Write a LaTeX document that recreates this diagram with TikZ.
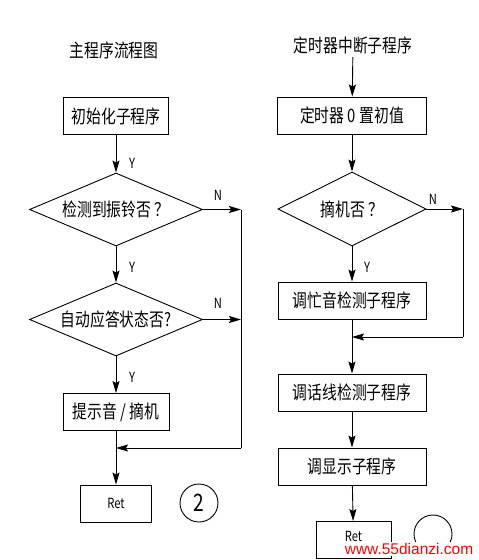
\documentclass[tikz,border=0pt]{standalone}
\usepackage{fontspec}
\usetikzlibrary{arrows.meta,shapes.geometric}
\newfontfamily\cjk[FakeStretch=0.8]{Noto Sans CJK SC}
\newfontfamily\wmfont{Liberation Sans}
\tikzset{
    every node/.style={font=\cjk\fontsize{18.5}{20}\selectfont},
    procbox/.style={rectangle,draw,line width=0.9pt,minimum height=37pt,inner sep=2pt},
    decision/.style={diamond,draw,line width=0.9pt,inner sep=0pt,aspect=2.4,minimum width=173pt,minimum height=73pt},
    yn/.style={font=\cjk\fontsize{14}{15}\selectfont,inner sep=1pt},
    flow/.style={draw,line width=0.9pt,-{Stealth[length=12pt,width=7pt,inset=2pt]}},
    plain/.style={draw,line width=0.9pt}
}
\begin{document}
\begin{tikzpicture}[x=1pt,y=-1pt]
\useasboundingbox (0,0) rectangle (479,560);
% main program
\node (maintitle) at (114,50) {主程序流程图};
\node[procbox,minimum width=105pt] (init) at (116,116) {初始化子程序};
\node[decision] (ring) at (116,209.5) {检测到振铃否 ？};
\node[decision] (auto) at (116,319.5) {自动应答状态否?};
\node[procbox,minimum width=106pt] (tone) at (116,412) {提示音 / 摘机};
\node[procbox,minimum width=71pt,font=\cjk\fontsize{14}{15}\selectfont] (retA) at (116,503.5) {Ret};
\node[circle,draw,line width=0.9pt,minimum size=38pt,inner sep=0pt,font=\cjk\fontsize{24}{26}\selectfont] (numA) at (199,503) {2};
\coordinate (ringN) at (241,209.5);
\coordinate (autoN) at (241,319.5);
\coordinate (backA) at (241,448);
\coordinate (joinA) at (116,448);
\draw[flow] (init) -- (ring);
\draw[flow] (ring) -- (auto);
\draw[flow] (auto) -- (tone);
\draw[flow] (ring.east) -- (ringN);
\draw[flow] (auto.east) -- (autoN);
\draw[plain] (ringN) -- (backA);
\draw[flow] (backA) -- (joinA);
\draw[plain] (tone) -- (joinA);
\draw[flow] (joinA) -- (retA);
\node[yn] (y1) at (132,163) {Y};
\node[yn] (y2) at (132,267) {Y};
\node[yn] (y3) at (132,377) {Y};
\node[yn] (n1) at (218,195) {N};
\node[yn] (n2) at (218,303) {N};
% timer interrupt
\node (timertitle) at (353,45) {定时器中断子程序};
\node[procbox,minimum width=149pt] (tinit) at (352,115.5) {定时器 0 置初值};
\node[decision,minimum width=148pt,minimum height=74pt] (hook) at (352,209) {摘机否 ？};
\node[procbox,minimum width=148pt] (busy) at (352,300.5) {调忙音检测子程序};
\node[procbox,minimum width=148pt] (lineck) at (352,392.5) {调话线检测子程序};
\node[procbox,minimum width=148pt] (disp) at (352,466.5) {调显示子程序};
\node[procbox,minimum width=75pt,text height=10pt,text depth=8pt,font=\cjk\fontsize{14}{15}\selectfont] (retB) at (353.5,540) {Ret};
\node[circle,draw,line width=0.9pt,minimum size=38pt,inner sep=0pt] (numB) at (433,534) {};
\coordinate (hookN) at (463,209);
\coordinate (backB) at (463,337);
\coordinate (joinB) at (352,337);
\draw[flow] (timertitle) -- (tinit);
\draw[flow] (tinit) -- (hook);
\draw[flow] (hook) -- (busy);
\draw[flow] (hook.east) -- (hookN);
\draw[plain] (hookN) -- (backB);
\draw[flow] (backB) -- (joinB);
\draw[plain] (busy) -- (joinB);
\draw[flow] (joinB) -- (lineck);
\draw[flow] (lineck) -- (disp);
\draw[flow] (disp) -- (retB);
\node[yn] (y4) at (367,267) {Y};
\node[yn] (n3) at (433,199) {N};
\node[fill=white,inner sep=1pt,text=red,font=\wmfont\fontsize{15.5}{16}\selectfont] (mark) at (409,549) {www.55dianzi.com};
\end{tikzpicture}
\end{document}
